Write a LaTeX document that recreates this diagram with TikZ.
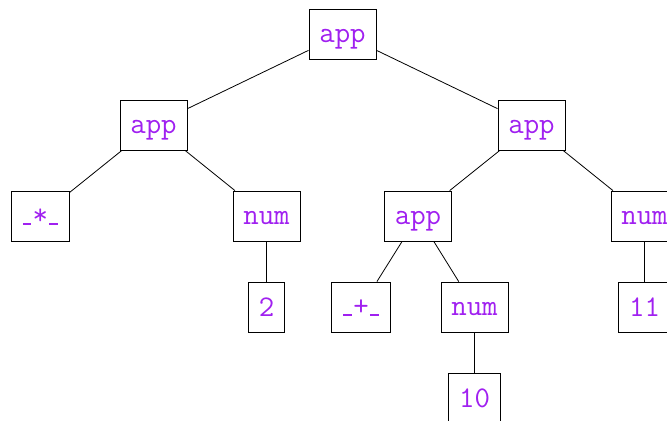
\documentclass[tikz,border=0pt]{standalone}
\usepackage{tikz}
\usetikzlibrary{positioning}
\definecolor{termpurple}{RGB}{160,32,240}
\newcommand{\usc}{\kern0.6pt\rule[-0.35pt]{4.3pt}{0.7pt}\kern0.6pt}

\begin{document}
\begin{tikzpicture}[
    x=1pt, y=1pt,
    node distance=20.5pt,
    term/.style={draw, rectangle, inner xsep=5.2pt, inner ysep=0pt, minimum height=25pt, text height=9.7pt, text depth=1.5pt, font=\fontsize{15}{18}\selectfont\ttfamily, text=termpurple},
    edge/.style={thin}
]
\clip (0,0) rectangle (333.5,-210.5);

% Root
\node[term] (root) at (171.25,-17) {app};

% Left subtree
\node[term] (lapp) at (76.75,-62.5) {app};
\node[term] (mul) at (20.15,-108) {\usc*\usc};
\node[term] (lnum) at (133.25,-108) {num};
\node[term, below=of lnum] (two) {2};

% Right subtree
\node[term] (rapp) at (265.75,-62.5) {app};
\node[term] (mapp) at (209,-108) {app};
\node[term] (plus) at (180.5,-153.5) {\usc+\usc};
\node[term] (mnum) at (237.25,-153.5) {num};
\node[term, below=of mnum] (ten) {10};
\node[term] (rnum) at (322.25,-108) {num};
\node[term, below=of rnum] (eleven) {11};

% Edges
\draw[edge] (root) -- (lapp);
\draw[edge] (root) -- (rapp);
\draw[edge] (lapp) -- (mul);
\draw[edge] (lapp) -- (lnum);
\draw[edge] (lnum) -- (two);
\draw[edge] (rapp) -- (mapp);
\draw[edge] (rapp) -- (rnum);
\draw[edge] (mapp) -- (plus);
\draw[edge] (mapp) -- (mnum);
\draw[edge] (mnum) -- (ten);
\draw[edge] (rnum) -- (eleven);

\end{tikzpicture}
\end{document}
